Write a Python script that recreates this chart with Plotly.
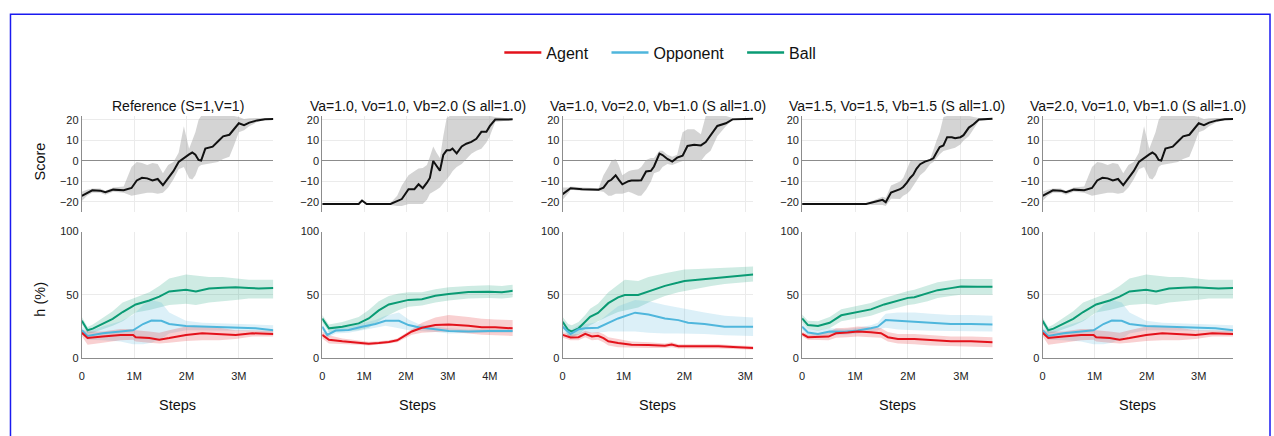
import plotly.graph_objects as go

W, H = 1274, 436
FONT = "Liberation Sans, Arial, Helvetica, sans-serif"

AGENT = "#e3121b"
OPP = "#4fb6dc"
BALL = "#0a9b74"
AGENT_BAND = "rgba(227,18,27,0.20)"
OPP_BAND = "rgba(79,182,220,0.20)"
BALL_BAND = "rgba(10,155,116,0.20)"
SCORE_BAND = "rgba(160,160,160,0.45)"

titles = [
    "Reference (S=1,V=1)",
    "Va=1.0, Vo=1.0, Vb=2.0 (S all=1.0)",
    "Va=1.0, Vo=2.0, Vb=1.0 (S all=1.0)",
    "Va=1.5, Vo=1.5, Vb=1.5 (S all=1.0)",
    "Va=2.0, Vo=1.0, Vb=1.0 (S all=1.0)",
]
x_max = [3.66, 4.55, 3.13, 3.6, 3.66]          # training steps shown (millions)
x_ticks = [0, 1, 2, 3, 4]
x_tick_text = ["0", "1M", "2M", "3M", "4M"]
score_ticks = [-20, -10, 0, 10, 20]
h_ticks = [0, 50, 100]

# ---------------- Reference (S=1, V=1) ----------------
ref_score_steps = [0, 0.1, 0.2, 0.35, 0.45, 0.6, 0.8, 0.95, 1.05, 1.15, 1.25, 1.35, 1.45, 1.55, 1.65,
                   1.75, 1.85, 1.95, 2.05, 2.11, 2.17, 2.23, 2.28, 2.36, 2.5, 2.6, 2.7, 2.82, 2.9, 3.0,
                   3.1, 3.2, 3.35, 3.5, 3.66]
ref_score_mean = [-17, -15.5, -14.3, -14.5, -15.3, -14, -14.3, -13.2, -9.5, -8.2, -8.5, -9.5, -8.8, -11.8,
                  -8.5, -5, -0.5, 1.5, 3.2, 4.1, 3.0, 0.5, 0.2, 6, 7, 9.5, 12, 12.8, 15.5, 18.4, 17.5,
                  18.7, 19.8, 20.4, 20.5]
ref_score_lo = [-19.5, -17, -15.5, -15.5, -16.5, -15, -15.5, -17, -16.5, -16, -15.5, -15.5, -16, -15.5,
                -13, -9, -4, -3, -8.5, -9, -7, -3, -2, -1.5, -1, -0.5, 1, 2, 7, 14, 15, 17, 19, 20, 20.2]
ref_score_hi = [-15, -14, -13.5, -13.5, -14.5, -13, -12.5, -3, -0.5, -1, -2, -1, -1.5, -6, -2, -0.5,
                4, 17, 6, 10, 14, 20, 22, 22, 22, 22, 22, 22, 22, 21.5, 20.5, 20.8, 21, 20.8, 20.8]

ref_ball_steps = [0, 0.11, 0.21, 0.4, 0.59, 0.78, 1.03, 1.29, 1.48, 1.67, 1.99, 2.18, 2.43, 2.69, 2.94,
                  3.19, 3.38, 3.66]
ref_ball_mean = [29.5, 22, 23.3, 27.4, 31, 36.4, 42.4, 45.5, 48.6, 52.7, 54, 52.7, 55, 55.6, 56, 55.4,
                 55, 55.4]
ref_ball_lo = [26.5, 19.5, 20, 23, 25.5, 29, 36, 38, 40, 42, 43, 42, 44, 45, 46, 47, 47, 47]
ref_ball_hi = [32.5, 24.5, 26.5, 31.5, 37, 44, 48, 52, 57, 63, 66, 65, 64, 64, 63, 62, 62, 62]

ref_opp_steps = [0, 0.11, 0.4, 0.74, 0.98, 1.17, 1.33, 1.52, 1.67, 1.99, 2.3, 2.94, 3.32, 3.66]
ref_opp_mean = [22, 17.5, 19.6, 21, 22, 26.9, 29.7, 29.5, 26.9, 25.3, 24.8, 24, 23.5, 22]
ref_opp_lo = [19, 14.5, 14, 13, 11, 11, 12, 15, 19.5, 22, 22, 21.5, 21, 20]
ref_opp_hi = [25, 21, 25, 29, 34, 42, 46, 44, 36, 29.5, 28, 27, 26.5, 26]

ref_agent_steps = [0, 0.11, 0.4, 0.74, 0.98, 1.03, 1.29, 1.48, 1.67, 1.99, 2.3, 2.62, 2.94, 3.26, 3.66]
ref_agent_mean = [20, 15.8, 17, 18.3, 18.3, 16.5, 15.8, 14.5, 15.8, 18.3, 19.6, 19, 18.3, 19.6, 19]
ref_agent_lo = [17.5, 10.5, 12, 14, 14.5, 13, 12, 11.5, 12, 13.5, 14, 14, 15, 17, 17]
ref_agent_hi = [22.5, 21, 21, 23, 23, 22, 21, 20, 22, 25, 25, 24, 22, 22, 21.5]

# ---------------- Va=1.0, Vo=1.0, Vb=2.0 ----------------
vb2_score_steps = [0, 0.87, 0.95, 1.06, 1.63, 1.79, 1.9, 2.06, 2.2, 2.3, 2.4, 2.5, 2.57, 2.65, 2.73,
                   2.81, 2.89, 2.97, 3.05, 3.11, 3.21, 3.33, 3.44, 3.56, 3.68, 3.8, 3.92, 4.0, 4.13, 4.55]
vb2_score_mean = [-21, -21, -19.3, -21, -21, -19.7, -18.6, -13.8, -13.8, -11.4, -13.3, -10.6, -8.3, 0,
                  -2.7, -4.8, 2.9, 5.2, 5.2, 6, 3.7, 7.1, 8.4, 9.3, 10.8, 14.2, 14.2, 17, 20.2, 20.3]
vb2_score_lo = [-21, -21, -20, -21, -21.5, -22, -22, -21, -21, -21, -21, -19, -16, -15, -14, -13, -11,
                -9, -7, -5, -3, -1.5, 1, 3.5, 5, 6, 9, 12, 19, 20]
vb2_score_hi = [-21, -21, -19, -21, -20.5, -17, -12, -7, -5, -3.7, -3.5, -2, 2, 7, 4, 1.5, 12, 21, 22,
                22, 22, 22, 22, 22, 22, 22, 22, 22, 21.5, 20.6]

vb2_ball_steps = [0, 0.16, 0.48, 0.87, 1.11, 1.35, 1.59, 1.83, 2.06, 2.38, 2.7, 3.02, 3.49, 3.97, 4.29, 4.55]
vb2_ball_mean = [31.3, 23.5, 24.8, 27.4, 31.3, 37.7, 42.4, 44.2, 46, 46.5, 49.3, 50.6, 52.2, 52.5, 52, 53.2]
vb2_ball_lo = [28, 20.5, 21, 22, 24, 29, 34, 38, 40.5, 41.5, 44, 45.5, 47, 47.5, 47, 48]
vb2_ball_hi = [34, 26.5, 28.5, 32.5, 38, 45, 49, 51, 52, 52, 54.5, 56, 57, 57.5, 57, 58]

vb2_opp_steps = [0, 0.12, 0.32, 0.63, 0.95, 1.27, 1.51, 1.83, 2.06, 2.3, 2.7, 3.02, 3.49, 3.97, 4.55]
vb2_opp_mean = [24.8, 18.3, 21.7, 22.2, 24.8, 26.9, 29.5, 29.5, 26.1, 24.3, 22.7, 21.4, 20.9, 21.4, 21.4]
vb2_opp_lo = [22, 16, 19.5, 20, 22, 24, 25.5, 23.5, 22, 21.5, 20.5, 19.5, 19.5, 20, 20]
vb2_opp_hi = [27.5, 21, 24, 24.5, 27.5, 30, 33.5, 36, 30.5, 27, 25, 23.5, 22.5, 23, 23]

vb2_agent_steps = [0, 0.16, 0.48, 0.87, 1.11, 1.35, 1.59, 1.79, 1.98, 2.14, 2.38, 2.7, 3.02, 3.49, 3.81,
                   4.13, 4.55]
vb2_agent_mean = [18.3, 14.5, 13.2, 11.9, 11.4, 11.9, 12.7, 14, 17.6, 21, 24, 26.1, 26.6, 25.6, 24.3,
                  24.3, 23.5]
vb2_agent_lo = [15.5, 11.5, 11, 10.5, 10, 10.5, 11.5, 12.5, 15.5, 18.5, 20, 20.5, 21, 19.5, 18.5, 18, 17.5]
vb2_agent_hi = [21, 18, 15.5, 13.5, 12.8, 13.3, 14, 15.5, 19.5, 23.5, 28, 32, 34, 32.5, 31, 30.5, 30]

# ---------------- Va=1.0, Vo=2.0, Vb=1.0 ----------------
vo2_score_steps = [0, 0.1, 0.13, 0.32, 0.59, 0.67, 0.75, 0.8, 0.87, 0.92, 0.98, 1.08, 1.13, 1.24, 1.29,
                   1.37, 1.45, 1.5, 1.59, 1.64, 1.72, 1.8, 1.88, 1.97, 2.05, 2.16, 2.27, 2.35, 2.43, 2.54,
                   2.68, 2.79, 3.13]
vo2_score_mean = [-16.2, -14.3, -13.3, -13.8, -14, -13, -9.9, -9.2, -7, -9.1, -11.4, -9.9, -9.5, -9.5,
                  -9.4, -5.1, -4.8, -2.7, 3.6, 2.9, 1, -0.3, 1.6, 2.6, 7.3, 7.9, 7.6, 9.2, 12.6, 17.1,
                  18.4, 20.3, 20.6]
vo2_score_lo = [-19, -15.5, -14, -14.5, -14.7, -15, -17, -17, -16, -16, -16, -15, -15.5, -17, -17, -14,
                -10, -6, -5, -3, -1.5, -2, -1, 0, 0, 0, 0, 3, 5, 12, 17, 20, 20.4]
vo2_score_hi = [-13, -13, -12.5, -13, -13.3, -7, -3, 0, 1, -2, -7, -5, -4.5, -4, -3, 0.5, 1.5, 1.5, 5,
                5, 3, 2, 3, 14, 15.5, 15.5, 13, 22, 22, 22, 22, 21, 20.8]

vo2_ball_steps = [0, 0.09, 0.15, 0.26, 0.37, 0.45, 0.58, 0.75, 0.91, 1.02, 1.24, 1.41, 1.68, 1.9, 2.0,
                  2.22, 2.44, 2.66, 2.88, 3.13]
vo2_ball_mean = [28.7, 22.2, 21, 23.5, 28.7, 32.6, 35.7, 43.4, 48, 49.9, 49.9, 52.7, 57.1, 59.7, 61, 62,
                 63, 64.1, 64.9, 66.1]
vo2_ball_lo = [25, 17.5, 16.5, 18.5, 23, 26, 29, 33, 36.5, 38, 40, 44, 49, 52, 53.5, 55, 57, 58.5, 59.5, 60.5]
vo2_ball_hi = [32.5, 27, 26, 28.5, 34, 39, 43, 52, 58, 62, 61, 64, 67, 69, 70, 70.5, 71, 71.5, 72, 72.5]

vo2_opp_steps = [0, 0.13, 0.26, 0.37, 0.58, 0.75, 0.91, 1.19, 1.41, 1.68, 1.9, 2.06, 2.33, 2.66, 3.13]
vo2_opp_mean = [24.8, 19.1, 22.7, 23.5, 24, 27.9, 31.3, 35.9, 34.4, 31.3, 30, 27.9, 26.9, 24.8, 24.8]
vo2_opp_lo = [21.5, 16, 19.5, 20, 20, 21, 21, 21, 20, 19.5, 19.5, 19.5, 19, 18, 17.5]
vo2_opp_hi = [28, 22, 26, 27, 28.5, 35, 41, 46, 45, 42, 40, 38, 36, 33.5, 32]

vo2_agent_steps = [0, 0.13, 0.26, 0.37, 0.48, 0.58, 0.67, 0.75, 0.91, 1.13, 1.41, 1.68, 1.79, 1.9, 2.22,
                   2.56, 2.88, 3.13]
vo2_agent_mean = [18.3, 16.3, 16.5, 19.1, 17, 17.6, 15.8, 13.2, 11.9, 10.6, 10.3, 9.8, 10.6, 9.3, 9.3,
                  9.3, 8.5, 8]
vo2_agent_lo = [16, 14, 14, 16.5, 14, 14.5, 12.5, 10, 8.5, 8, 8, 8, 8.5, 7.5, 7.5, 7.5, 7, 6.5]
vo2_agent_hi = [20.5, 18.5, 19, 21.5, 20, 20.5, 19, 16.5, 15, 13, 12.5, 11.5, 12.5, 11, 11, 11, 10, 9.5]

# ---------------- Va=1.5, Vo=1.5, Vb=1.5 ----------------
v15_score_steps = [0, 1.21, 1.32, 1.45, 1.52, 1.58, 1.68, 1.85, 1.91, 1.98, 2.04, 2.1, 2.16, 2.23, 2.32,
                   2.42, 2.48, 2.54, 2.6, 2.67, 2.74, 2.83, 2.89, 2.99, 3.05, 3.15, 3.24, 3.34, 3.6]
v15_score_mean = [-21, -21, -20.3, -19.5, -19, -20.2, -15.4, -13.8, -12.7, -10.6, -8.3, -6.7, -3.8, -1.6,
                  -0.3, 0.5, 1.3, 4.1, 6.8, 7.6, 11.6, 11.6, 11.1, 11.6, 12.6, 16.3, 17.9, 20.2, 20.6]
v15_score_lo = [-21, -21, -21.5, -21.5, -21.5, -22, -18.5, -18.6, -17, -16, -14.6, -12, -9.9, -7, -5,
                -1.5, -0.5, 1.5, 3.3, 4.9, 5.5, 6, 6.5, 8, 10, 12, 15.5, 19.5, 20.4]
v15_score_hi = [-21, -21, -19.5, -18, -17.5, -18, -12, -10, -8.3, -4, -0.3, 0.5, 0.5, 0, 0, 0.8, 6, 10,
                14, 21.4, 22, 22, 22, 22, 22, 22, 21.5, 21, 20.8]

v15_ball_steps = [0, 0.11, 0.3, 0.52, 0.74, 0.99, 1.3, 1.55, 1.81, 2.0, 2.12, 2.37, 2.56, 2.81, 3.0, 3.31, 3.6]
v15_ball_mean = [31.3, 26.1, 25.3, 27.9, 33.8, 35.9, 38.5, 42.4, 45.5, 47.6, 48.1, 51.2, 53.7, 55.3, 56.6,
                 56.3, 56.3]
v15_ball_lo = [28, 23, 21.5, 23.5, 29, 31, 33.5, 37, 40, 42, 42.5, 45, 47.5, 49, 50, 50, 50]
v15_ball_hi = [34.5, 29.5, 29, 32.5, 38.5, 40.5, 43.5, 47.5, 51, 53, 54, 57.5, 60, 61.5, 62.5, 62.5, 62.5]

v15_opp_steps = [0, 0.11, 0.3, 0.52, 0.8, 1.05, 1.3, 1.43, 1.52, 1.58, 1.81, 2.12, 2.43, 2.81, 3.19, 3.6]
v15_opp_mean = [24.8, 20.2, 19.1, 21, 20.7, 21.7, 23.5, 24.8, 27.9, 30, 29.5, 28.7, 27.4, 26.9, 26.9, 26.6]
v15_opp_lo = [22, 17.5, 16.5, 18.5, 18.5, 19.5, 21, 22, 23.5, 24, 22.5, 22, 21.5, 21, 21, 21]
v15_opp_hi = [27.5, 23, 22, 23.5, 23, 24, 26, 28, 32.5, 35, 36, 36, 35, 34, 34, 33.5]

v15_agent_steps = [0, 0.11, 0.5, 0.64, 0.86, 1.05, 1.3, 1.49, 1.62, 1.81, 2.12, 2.43, 2.81, 3.19, 3.6]
v15_agent_mean = [19.1, 16.5, 17, 19.6, 20.2, 21, 20.4, 19.6, 16.5, 15, 15, 14, 13.2, 13.2, 12.4]
v15_agent_lo = [17, 14.5, 14, 16, 16.5, 17, 16.5, 16, 13, 11.5, 11, 10, 9.5, 9, 8.5]
v15_agent_hi = [21, 18.5, 20.5, 23.5, 24, 25, 24.5, 23.5, 20.5, 19, 19, 18, 17, 17, 16.5]

# Va=2.0 run produced the same curves as the reference run
runs = [
    dict(score=(ref_score_steps, ref_score_mean, ref_score_lo, ref_score_hi),
         agent=(ref_agent_steps, ref_agent_mean, ref_agent_lo, ref_agent_hi),
         opp=(ref_opp_steps, ref_opp_mean, ref_opp_lo, ref_opp_hi),
         ball=(ref_ball_steps, ref_ball_mean, ref_ball_lo, ref_ball_hi)),
    dict(score=(vb2_score_steps, vb2_score_mean, vb2_score_lo, vb2_score_hi),
         agent=(vb2_agent_steps, vb2_agent_mean, vb2_agent_lo, vb2_agent_hi),
         opp=(vb2_opp_steps, vb2_opp_mean, vb2_opp_lo, vb2_opp_hi),
         ball=(vb2_ball_steps, vb2_ball_mean, vb2_ball_lo, vb2_ball_hi)),
    dict(score=(vo2_score_steps, vo2_score_mean, vo2_score_lo, vo2_score_hi),
         agent=(vo2_agent_steps, vo2_agent_mean, vo2_agent_lo, vo2_agent_hi),
         opp=(vo2_opp_steps, vo2_opp_mean, vo2_opp_lo, vo2_opp_hi),
         ball=(vo2_ball_steps, vo2_ball_mean, vo2_ball_lo, vo2_ball_hi)),
    dict(score=(v15_score_steps, v15_score_mean, v15_score_lo, v15_score_hi),
         agent=(v15_agent_steps, v15_agent_mean, v15_agent_lo, v15_agent_hi),
         opp=(v15_opp_steps, v15_opp_mean, v15_opp_lo, v15_opp_hi),
         ball=(v15_ball_steps, v15_ball_mean, v15_ball_lo, v15_ball_hi)),
    dict(score=(ref_score_steps, ref_score_mean, ref_score_lo, ref_score_hi),
         agent=(ref_agent_steps, ref_agent_mean, ref_agent_lo, ref_agent_hi),
         opp=(ref_opp_steps, ref_opp_mean, ref_opp_lo, ref_opp_hi),
         ball=(ref_ball_steps, ref_ball_mean, ref_ball_lo, ref_ball_hi)),
]

# panel geometry in pixels
col_left = [79, 320, 561, 801, 1042]
col_right = [271, 511, 752, 992, 1233]
score_top, score_bottom = 113, 212
h_top, h_bottom = 232, 362


def px_x(v):
    return v / W


def px_y(v):
    return 1 - v / H


fig = go.Figure()


def add_band(steps, lo, hi, color, xa, ya):
    fig.add_trace(go.Scatter(
        x=list(steps) + list(steps)[::-1], y=list(hi) + list(lo)[::-1],
        xaxis=xa, yaxis=ya, mode="lines", fill="toself", fillcolor=color,
        line=dict(width=0), hoverinfo="skip", showlegend=False))


def add_line(steps, mean, color, xa, ya):
    fig.add_trace(go.Scatter(
        x=steps, y=mean, xaxis=xa, yaxis=ya, mode="lines",
        line=dict(color=color, width=2), showlegend=False))


series = [("ball", BALL, BALL_BAND), ("opp", OPP, OPP_BAND), ("agent", AGENT, AGENT_BAND)]

layout = {}
for i, run in enumerate(runs):
    kt, kb = i + 1, i + 6
    xt, yt = ("x" if kt == 1 else f"x{kt}"), ("y" if kt == 1 else f"y{kt}")
    xb, yb = f"x{kb}", f"y{kb}"

    s_steps, s_mean, s_lo, s_hi = run["score"]
    add_band(s_steps, s_lo, s_hi, SCORE_BAND, xt, yt)
    add_line(s_steps, s_mean, "#111111", xt, yt)

    for key, color, band in series:
        st, mn, lo, hi = run[key]
        add_band(st, lo, hi, band, xb, yb)
    for key, color, band in series:
        st, mn, lo, hi = run[key]
        add_line(st, mn, color, xb, yb)

    dom_x = [px_x(col_left[i]), px_x(col_right[i])]
    common_x = dict(domain=dom_x, range=[0, x_max[i]], tickvals=x_ticks, ticktext=x_tick_text,
                    showgrid=True, gridcolor="#ebebeb", gridwidth=1, zeroline=False,
                    tickfont=dict(size=11, color="#222", family=FONT))
    layout[f"xaxis{'' if kt == 1 else kt}"] = dict(
        common_x, anchor=yt, showticklabels=False, showline=False, ticks="")
    layout[f"xaxis{kb}"] = dict(
        common_x, anchor=yb, showticklabels=True, showline=True, linecolor="#8c8c8c",
        linewidth=1, ticks="outside", ticklen=8, tickcolor="rgba(0,0,0,0)")
    layout[f"yaxis{'' if kt == 1 else kt}"] = dict(
        domain=[px_y(score_bottom), px_y(score_top)], range=[-25, 22], anchor=xt,
        tickvals=score_ticks, showgrid=True, gridcolor="#ebebeb", zeroline=True,
        zerolinecolor="#8c8c8c", zerolinewidth=1, showline=True, linecolor="#8c8c8c",
        linewidth=1, ticks="", tickfont=dict(size=11, color="#222", family=FONT))
    layout[f"yaxis{kb}"] = dict(
        domain=[px_y(h_bottom), px_y(h_top)], range=[0, 100], anchor=xb,
        tickvals=h_ticks, showgrid=True, gridcolor="#ebebeb", zeroline=False,
        showline=True, linecolor="#8c8c8c", linewidth=1, ticks="",
        tickfont=dict(size=11, color="#222", family=FONT))

# legend entries (non-breaking spaces widen the gap between entries)
PAD = "\u00a0" * 3
for name, color in [("Agent", AGENT), ("Opponent", OPP), ("Ball", BALL)]:
    fig.add_trace(go.Scatter(x=[None], y=[None], mode="lines", name=name + PAD,
                             line=dict(color=color, width=2.5), showlegend=True))

annotations = []
for i in range(5):
    cx = px_x((col_left[i] + col_right[i]) / 2)
    annotations.append(dict(text=titles[i], x=cx, y=px_y(103), xref="paper", yref="paper",
                            showarrow=False, xanchor="center", yanchor="middle",
                            font=dict(size=14, color="#111", family=FONT)))
    annotations.append(dict(text="Steps", x=cx, y=px_y(410), xref="paper", yref="paper",
                            showarrow=False, xanchor="center", yanchor="middle",
                            font=dict(size=14.5, color="#111", family=FONT)))
annotations.append(dict(text="Score", x=px_x(37), y=px_y(160), xref="paper", yref="paper",
                        showarrow=False, textangle=-90, xanchor="center", yanchor="middle",
                        font=dict(size=14.5, color="#111", family=FONT)))
annotations.append(dict(text="h (%)", x=px_x(37), y=px_y(301), xref="paper", yref="paper",
                        showarrow=False, textangle=-90, xanchor="center", yanchor="middle",
                        font=dict(size=14.5, color="#111", family=FONT)))

fig.update_layout(
    width=W, height=H, margin=dict(l=0, r=0, t=0, b=0),
    paper_bgcolor="white", plot_bgcolor="white",
    font=dict(family=FONT, color="#111"),
    legend=dict(orientation="h", x=px_x(497.5), y=px_y(48), xanchor="left", yanchor="middle",
                font=dict(size=16, color="#111", family=FONT), bgcolor="rgba(0,0,0,0)",
                itemwidth=37),
    annotations=annotations,
    shapes=[dict(type="rect", xref="paper", yref="paper", x0=px_x(7.5), x1=px_x(1270),
                 y0=px_y(445), y1=px_y(8.5), line=dict(color="#1a1af0", width=1.5))],
    **layout,
)

fig.write_html("out.html")
